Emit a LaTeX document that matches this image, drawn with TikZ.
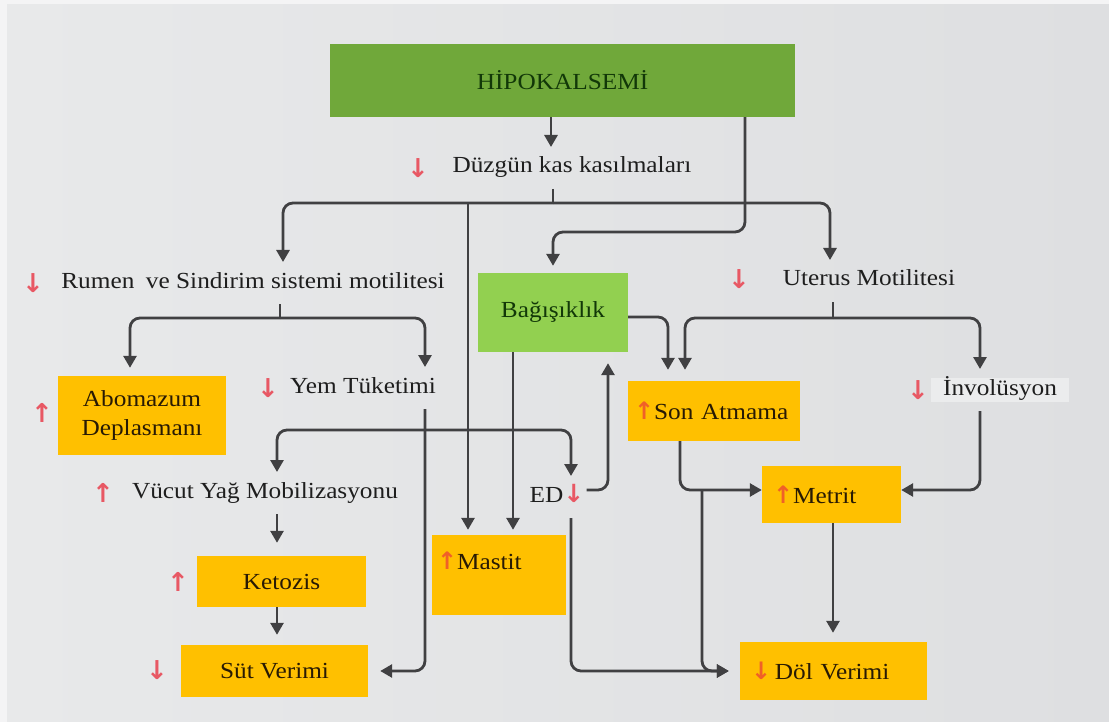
\documentclass[tikz,border=0pt]{standalone}
\usepackage{fontspec}
\setmainfont{Liberation Serif}
\newfontfamily\serstretch{Liberation Serif}[FakeStretch=1.1]
\newfontfamily\symfont{DejaVu Sans Bold}
\usetikzlibrary{arrows.meta,calc}
\definecolor{bgL}{RGB}{232,233,234}
\definecolor{bgR}{RGB}{222,223,225}
\definecolor{lineC}{RGB}{64,64,66}
\definecolor{dgreen}{RGB}{112,168,58}
\definecolor{lgreen}{RGB}{146,208,80}
\definecolor{gtxt}{RGB}{18,56,8}
\definecolor{orangeC}{RGB}{255,192,0}
\definecolor{otxt}{RGB}{40,26,4}
\definecolor{txtC}{RGB}{30,30,30}
\definecolor{redC}{RGB}{232,88,100}
\definecolor{oredC}{RGB}{240,96,40}
\newcommand{\oa}[1]{{\symfont\fontsize{24}{24}\selectfont\color{oredC}#1}}
\newcommand{\pa}[1]{{\symfont\fontsize{25}{25}\selectfont\color{redC}#1}}
\begin{document}
\begin{tikzpicture}[x=1pt,y=-1pt,
  conn/.style={draw=lineC, line width=2.8pt, rounded corners=10pt},
  arr/.style={conn, -{Triangle[width=13pt,length=12pt]}},
  txt/.style={font=\serstretch\fontsize{23}{28}\selectfont, text=txtC, text height=15pt, text depth=5pt, inner xsep=2pt, inner ysep=2pt, outer ysep=9pt},
  obox/.style={fill=orangeC, font=\serstretch\fontsize{23}{29}\selectfont, text=otxt, inner sep=0pt},
  gbox/.style={fill=dgreen, font=\serstretch\fontsize{23}{28}\selectfont, text=gtxt, inner sep=0pt},
  lgbox/.style={fill=lgreen, font=\serstretch\fontsize{23}{28}\selectfont, text=gtxt, inner sep=0pt},
  ua/.style={font=\symfont\fontsize{26}{26}\selectfont, text=redC, inner sep=0pt},
]
\useasboundingbox (0,0) rectangle (1109,722);
\fill[white!50!bgL] (0,0) rectangle (1109,722);
\shade[left color=bgL, right color=bgR] (7,5) rectangle (1109,722);

% nodes
\node[gbox, minimum width=465pt, minimum height=73pt] (hipo) at (562.5,80.5) {HİPOKALSEMİ};
\node[txt] (duz) at (572,168) {Düzgün kas kasılmaları};
\node[ua] (duza) at (418,168) {↓};
\node[txt] (rumen) at (253,283) {Rumen\enspace ve Sindirim sistemi motilitesi};
\node[ua] (rumena) at (33,283) {↓};
\node[lgbox, minimum width=150pt, minimum height=79pt] (bag) at (553,312.5) {Bağışıklık};
\node[txt] (uterus) at (869,281) {Uterus Motilitesi};
\node[ua] (uterusa) at (739,279) {↓};
\node[obox, minimum width=168pt, minimum height=79pt, align=center] (abo) at (142,415.5) {Abomazum\\Deplasmanı};
\node[ua] (aboa) at (42,413) {↑};
\node[txt] (yem) at (363,388) {Yem Tüketimi};
\node[ua] (yema) at (268,388) {↓};
\node[obox, minimum width=172pt, minimum height=60pt, text width=160pt, align=left, inner xsep=6pt] (son) at (714,411) {\oa{↑}Son Atmama};
\node[txt, fill=white!15!bgL, inner xsep=12pt] (inv) at (1000,390) {İnvolüsyon};
\node[ua] (inva) at (918,390) {↓};
\node[txt] (vucut) at (265,493) {Vücut Yağ Mobilizasyonu};
\node[ua] (vucuta) at (103,493) {↑};
\node[txt] (ed) at (557,497) {ED\pa{↓}};
\node[obox, minimum width=134pt, minimum height=80pt, text width=124pt, align=left, inner xsep=5pt] (mastit) at (499,575) {\oa{↑}Mastit\\ \mbox{}};
\node[obox, minimum width=169pt, minimum height=51pt] (keto) at (281.5,581.5) {Ketozis};
\node[ua] (ketoa) at (178,582) {↑};
\node[obox, minimum width=187pt, minimum height=52pt] (sut) at (274.5,671) {Süt Verimi};
\node[ua] (suta) at (157,670) {↓};
\node[obox, minimum width=129pt, minimum height=57pt, text width=117pt, align=left, inner xsep=11pt] (metrit) at (831.5,494.5) {\oa{↑}Metrit};
\node[obox, minimum width=187pt, minimum height=58pt, text width=165pt, align=left, inner xsep=11pt] (dol) at (833.5,671) {\oa{↓}\,Döl Verimi};

% junction coordinates
\coordinate (busm) at (468,203);
\coordinate (yj) at (425,430);
\coordinate (sj) at (702,490);

% connectors
\draw[arr] (551,0 |- hipo.south) -- (551,0 |- duz.north);
\draw[conn] (553,0 |- duz.south) -- (553,203) coordinate (bus);
\draw[arr] (bus) -| (283,0 |- rumen.north);
\draw[arr] (bus) -| (830,0 |- uterus.north);
\draw[arr, shorten >=5pt] (busm) -- (468,0 |- mastit.north);
\draw[arr, shorten >=7pt] (745,0 |- hipo.south) |- (553,232) -- (bag.north);

\draw[conn] (280,0 |- rumen.south) -- (280,318) coordinate (rj);
\draw[arr, shorten >=8pt] (rj) -| (130,0 |- abo.north);
\draw[arr] (rj) -| (425,0 |- yem.north);

\draw[arr, shorten >=12pt] (425,0 |- yem.south) |- (sut.east);
\draw[arr] (yj) -| (277,0 |- vucut.north);
\draw[arr] (yj) -| (571,0 |- ed.north);
\draw[arr, shorten >=13pt] (277,0 |- vucut.south) -- (277,0 |- keto.north);
\draw[arr, shorten >=10pt] (277,0 |- keto.south) -- (277,0 |- sut.north);

\draw[arr, shorten >=5pt] (513,0 |- bag.south) -- (513,0 |- mastit.north);
\draw[arr, shorten >=11pt] (ed.east |- 0,490) -| (608,0 |- bag.south);
\draw[arr, shorten >=11pt] (571,0 |- ed.south) |- (dol.west);

\draw[arr, shorten >=11pt] (bag.east |- 0,317) -| (668,0 |- son.north);
\draw[conn] (833,0 |- uterus.south) -- (833,318) coordinate (uj);
\draw[arr, shorten >=11pt] (uj) -| (685,0 |- son.north);
\draw[arr] (uj) -| (980,0 |- inv.north);

\draw[arr] (680,0 |- son.south) |- (metrit.west |- 0,490);
\draw[arr, shorten >=11pt] (sj) |- (dol.west);
\draw[arr] (980,0 |- inv.south) |- (metrit.east |- 0,490);
\draw[arr, shorten >=9pt] (833,0 |- metrit.south) -- (833,0 |- dol.north);
\end{tikzpicture}
\end{document}
